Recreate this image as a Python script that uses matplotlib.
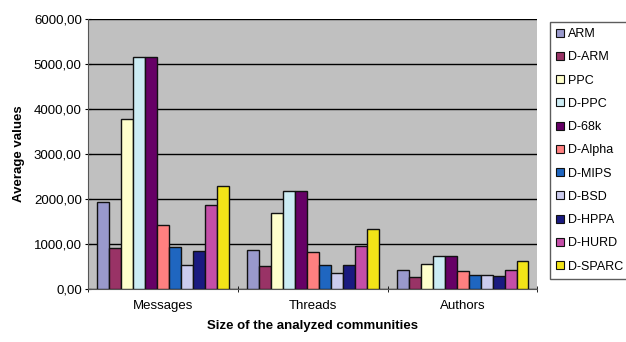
import numpy as np
import matplotlib.pyplot as plt
from matplotlib.ticker import FuncFormatter

plt.rcParams['font.family'] = ['Liberation Sans', 'DejaVu Sans']

categories = ['Messages', 'Threads', 'Authors']
series = ['ARM', 'D-ARM', 'PPC', 'D-PPC', 'D-68k', 'D-Alpha',
          'D-MIPS', 'D-BSD', 'D-HPPA', 'D-HURD', 'D-SPARC']
values = [
    [1927, 867, 415],    # ARM
    [903, 511, 274],     # D-ARM
    [3770, 1696, 556],   # PPC
    [5155, 2185, 740],   # D-PPC
    [5155, 2185, 740],   # D-68k
    [1422, 830, 400],    # D-Alpha
    [940, 533, 311],     # D-MIPS
    [526, 348, 311],     # D-BSD
    [844, 541, 282],     # D-HPPA
    [1874, 956, 422],    # D-HURD
    [2289, 1341, 622],   # D-SPARC
]
colors = ['#9999cc', '#993366', '#ffffcc', '#ccecf4', '#660066', '#ff8080',
          '#1f66c0', '#ccccee', '#1a1a80', '#c44ea8', '#f2e418']

fig = plt.figure(figsize=(6.26, 3.42), dpi=100)
ax = fig.add_axes([0.1406, 0.155, 0.718, 0.789])
ax.set_facecolor('#c0c0c0')

x = np.arange(len(categories))
w = 0.08
for i, (name, vals) in enumerate(zip(series, values)):
    ax.bar(x + (i - 5) * w, vals, width=w, color=colors[i], edgecolor='#111111',
           linewidth=1.0, label=name, zorder=3)

ax.set_xlim(-0.5, 2.5)
ax.set_ylim(0, 6000)
ax.set_yticks(np.arange(0, 6001, 1000))
ax.yaxis.set_major_formatter(FuncFormatter(lambda v, p: f'{v:.2f}'.replace('.', ',')))
ax.grid(axis='y', color='black', linewidth=1.0, zorder=1)
ax.set_xticks(x)
ax.set_xticklabels(categories)
ax.set_xticks([-0.5, 0.5, 1.5, 2.5], minor=True)
ax.tick_params(axis='x', which='major', length=0, pad=8, labelsize=9.5)
ax.tick_params(axis='x', which='minor', length=5, direction='inout')
ax.tick_params(axis='y', length=5, direction='inout', labelsize=9.5, pad=2)
for side in ['top', 'right']:
    ax.spines[side].set_visible(False)
for side in ['left', 'bottom']:
    ax.spines[side].set_color('#555555')

ax.set_ylabel('Average values', fontweight='bold', fontsize=9.5, labelpad=6)
ax.set_xlabel('Size of the analyzed communities', fontweight='bold', fontsize=9.5, labelpad=6)

leg = ax.legend(loc='upper left', bbox_to_anchor=(1.028, 0.99), frameon=True,
                fancybox=False, edgecolor='#333333', fontsize=9,
                handlelength=0.6, handleheight=0.6, handletextpad=0.35,
                labelspacing=0.9, borderpad=0.5, borderaxespad=0.0)
for h in leg.legend_handles:
    h.set_linewidth(0.8)

fig.savefig('out.png', dpi=100)
